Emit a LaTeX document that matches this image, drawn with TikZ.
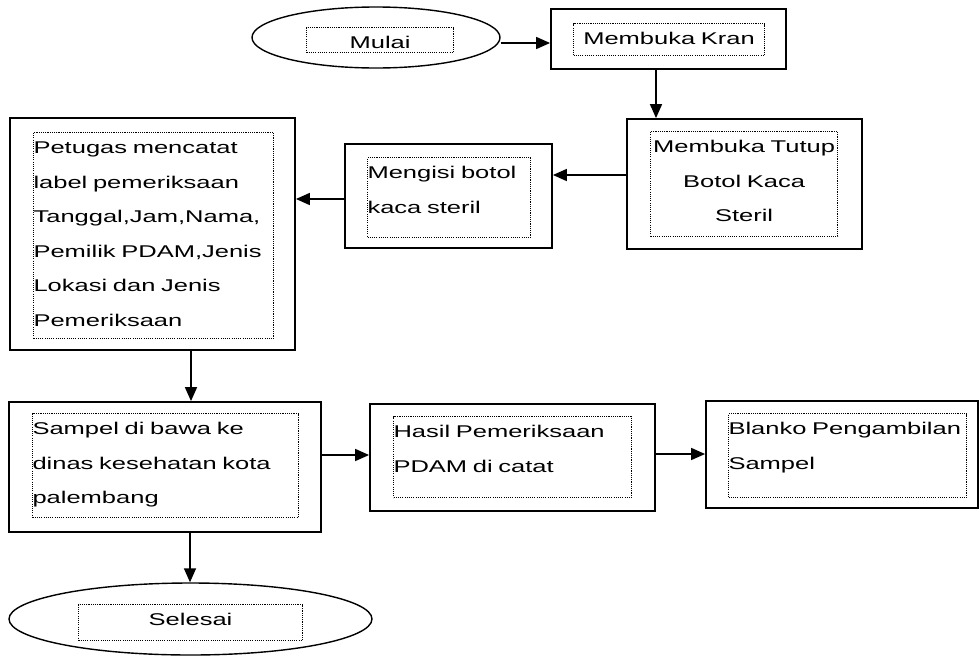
\documentclass[tikz,border=0pt]{standalone}
\usepackage{fontspec}
\usepackage{tikz}
\usetikzlibrary{shapes.geometric, arrows.meta, positioning, calc}
\newfontfamily\flowfont[FakeStretch=1.5]{Liberation Sans}

\begin{document}
\begin{tikzpicture}[
    x=1pt, y=-1pt,
    startstop/.style={ellipse, draw, line width=1.4pt, inner sep=0pt},
    stepbox/.style={rectangle, draw, line width=1.8pt, inner sep=0pt},
    txtbox/.style={rectangle, draw, line width=1.1pt, dash pattern=on 1.1pt off 1.1pt, inner sep=0pt, anchor=north west, text height=21pt, align=left, font=\flowfont\fontsize{17}{34.5}\selectfont},
    arrow/.style={line width=1.6pt, -{Triangle[length=14pt, width=12pt]}}
]
\useasboundingbox (0,0) rectangle (979,656);

% Nodes
\node (start) [startstop, minimum width=248pt, minimum height=61pt] at (376,37.5) {};
\node (startT) [txtbox, text width=147pt, text depth=4pt, align=center] at (306,27) {Mulai};
\node (kran) [stepbox, minimum width=235pt, minimum height=60pt] at (668.5,39) {};
\node (kranT) [txtbox, text width=191pt, text depth=11pt, align=center] at (573,23) {Membuka Kran};
\node (tutup) [stepbox, minimum width=235pt, minimum height=130pt] at (744.5,184) {};
\node (tutupT) [txtbox, text width=187pt, text depth=84pt, align=center] at (650,131) {\mbox{Membuka Tutup}\\ Botol Kaca\\ Steril};
\node (isi) [stepbox, minimum width=207pt, minimum height=104pt] at (448.5,196) {};
\node (isiT) [txtbox, text width=163pt, text depth=59pt] at (367,157) {Mengisi botol\\ kaca steril};
\node (catat) [stepbox, minimum width=285pt, minimum height=232pt] at (152.5,234) {};
\node (catatT) [txtbox, text width=240pt, text depth=185pt] at (33,132) {Petugas mencatat\\ label pemeriksaan\\ Tanggal,Jam,Nama,\\ Pemilik PDAM,Jenis\\ Lokasi dan Jenis\\ Pemeriksaan};
\node (sampel) [stepbox, minimum width=312pt, minimum height=130pt] at (165,467) {};
\node (sampelT) [txtbox, text width=266pt, text depth=83pt] at (32,413) {Sampel di bawa ke\\ dinas kesehatan kota\\ palembang};
\node (hasil) [stepbox, minimum width=285pt, minimum height=107pt] at (512.5,457.5) {};
\node (hasilT) [txtbox, text width=238pt, text depth=60pt] at (393,416) {Hasil Pemeriksaan\\ PDAM di catat};
\node (blanko) [stepbox, minimum width=272pt, minimum height=107pt] at (842,454.5) {};
\node (blankoT) [txtbox, text width=238pt, text depth=63pt] at (728,413) {\mbox{Blanko Pengambilan}\\ Sampel};
\node (stop) [startstop, minimum width=363pt, minimum height=72pt] at (190.5,619) {};
\node (stopT) [txtbox, text width=224pt, text depth=15pt, align=center] at (78,604) {Selesai};

% Arrows
\draw [arrow] (start.east |- 0,43) -- (kran.west |- 0,43);
\draw [arrow] (kran.south -| 656,0) -- (tutup.north -| 656,0);
\draw [arrow] (tutup.west |- 0,175) -- (isi.east |- 0,175);
\draw [arrow] (isi.west |- 0,199) -- (catat.east |- 0,199);
\draw [arrow] (catat.south -| 191,0) -- (sampel.north -| 191,0);
\draw [arrow] (sampel.east |- 0,455) -- (hasil.west |- 0,455);
\draw [arrow] (hasil.east |- 0,454) -- (blanko.west |- 0,454);
\draw [arrow] (sampel.south -| 190,0) -- (stop.north -| 190,0);

\end{tikzpicture}
\end{document}
